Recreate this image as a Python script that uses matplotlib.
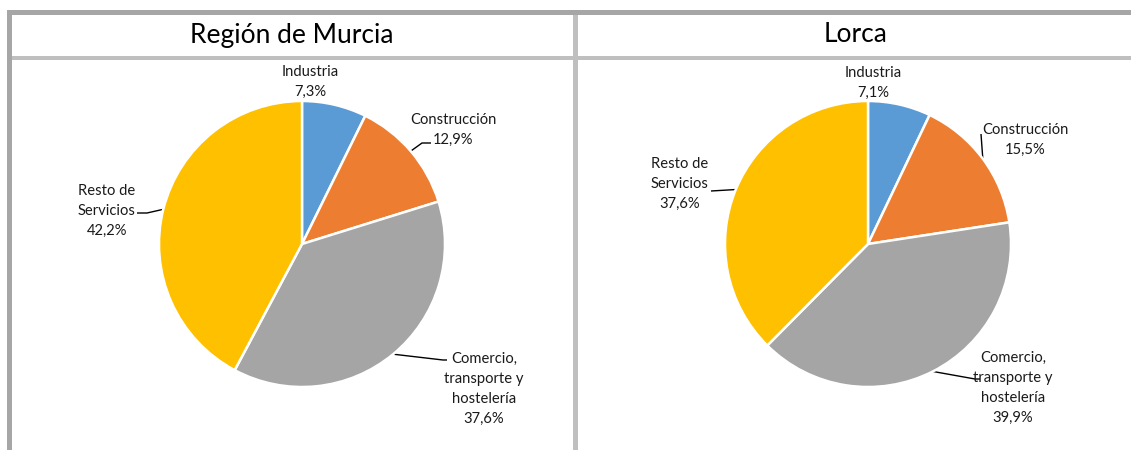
import numpy as np
import matplotlib
matplotlib.use('Agg')
import matplotlib.pyplot as plt
from matplotlib.patches import Rectangle

plt.rcParams['font.family'] = ['Lato', 'DejaVu Sans']

W, H = 1131, 450

sectors = ['Industria', 'Construcción', 'Comercio,\ntransporte y\nhostelería', 'Resto de\nServicios']
colors = ['#5B9BD5', '#ED7D31', '#A5A5A5', '#FFC000']
titles = ['Región de Murcia', 'Lorca']
murcia = [7.3, 12.9, 37.6, 42.2]
lorca = [7.1, 15.5, 39.9, 37.6]

# layout in pixels (x right, y down)
panels = [
    dict(vals=murcia, title=titles[0], title_x=292, cx=302, cy=244, r=143,
         label_xy=[(310, 82), (453, 130), (484, 389), (107, 211)],
         elbows=[None, [(422, 143), (431, 143)], [(443, 360), (447, 360)], [(147, 213), (137, 213)]]),
    dict(vals=lorca, title=titles[1], title_x=856, cx=868, cy=244, r=143,
         label_xy=[(873, 83), (1025, 140), (1013, 388), (680, 184)],
         elbows=[None, [(981, 134)], [(975, 379), (980, 379)], [(711, 191)]]),
]

fig = plt.figure(figsize=(W / 100, H / 100), dpi=100, facecolor='white')
bg = fig.add_axes([0, 0, 1, 1])
bg.set_xlim(0, W)
bg.set_ylim(H, 0)
bg.axis('off')

# frame of the two panels
dark = '#a6a6a6'
light = '#bfbfbf'
bg.add_patch(Rectangle((7, 10), W - 7, 5, color=dark, lw=0))
bg.add_patch(Rectangle((7, 10), 5, H - 10, color=dark, lw=0))
bg.add_patch(Rectangle((12, 56), W - 12, 4, color=light, lw=0))
bg.add_patch(Rectangle((573, 15), 5, H - 15, color=light, lw=0))

for p in panels:
    bg.text(p['title_x'], 35, p['title'], fontsize=19, ha='center', va='center', color='black')

    cx, cy, r = p['cx'], p['cy'], p['r']
    ax = fig.add_axes([(cx - r) / W, 1 - (cy + r) / H, 2 * r / W, 2 * r / H])
    wedges, _ = ax.pie(p['vals'], colors=colors, startangle=90, counterclock=False,
                       wedgeprops=dict(edgecolor='white', linewidth=1.8))
    ax.set_xlim(-1, 1)
    ax.set_ylim(-1, 1)
    ax.set_aspect('auto')
    ax.axis('off')

    for w, name, val, (tx, ty), elb in zip(wedges, sectors, p['vals'], p['label_xy'], p['elbows']):
        label = f'{name}\n{val:.1f}%'.replace('.', ',')
        bg.text(tx, ty, label, fontsize=10.6, ha='center', va='center',
                linespacing=1.55, color='#1a1a1a')
        if elb:
            mid = np.deg2rad((w.theta1 + w.theta2) / 2)
            disp = ax.transData.transform((np.cos(mid), np.sin(mid)))
            ax0 = bg.transData.inverted().transform(disp)
            xs = [ax0[0]] + [e[0] for e in elb]
            ys = [ax0[1]] + [e[1] for e in elb]
            bg.plot(xs, ys, color='black', lw=1, solid_capstyle='butt')

fig.savefig('out.png', dpi=100, facecolor='white')
